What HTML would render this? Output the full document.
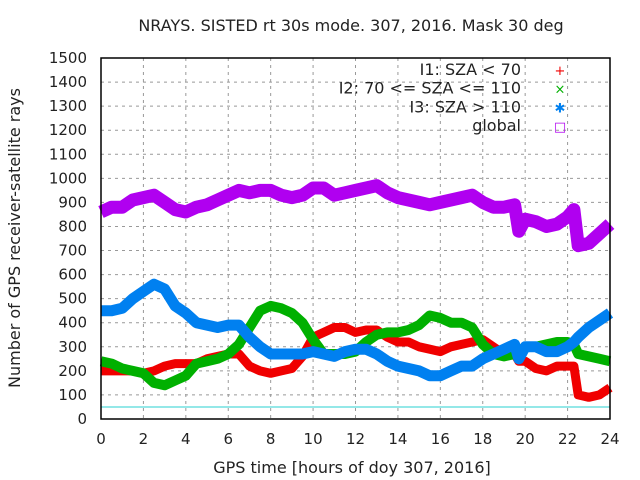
<!DOCTYPE html>
<html><head><meta charset="utf-8"><style>
body{margin:0;background:#fff}
svg{display:block;font-family:"DejaVu Sans","Liberation Sans",sans-serif}
</style></head><body>
<svg id="chart" width="640" height="480" viewBox="0 0 640 480" xmlns="http://www.w3.org/2000/svg">
<text x="351" y="31" font-size="16" text-anchor="middle" fill="#222">NRAYS. SISTED rt 30s mode. 307, 2016. Mask 30 deg</text>
<text transform="translate(20,238) rotate(-90)" font-size="16" text-anchor="middle" fill="#222">Number of GPS receiver-satellite rays</text>
<text x="352" y="473" font-size="16" text-anchor="middle" fill="#222">GPS time [hours of doy 307, 2016]</text>
<g id="grid"></g>
<g id="ticks"></g>
<g id="series"></g>
<rect x="101" y="58" width="509" height="361" fill="none" stroke="#000" stroke-width="1.5"/>
<g id="legend"></g>
</svg>
<script>
const hours=[0,0.5,1,1.5,2,2.5,3,3.5,4,4.5,5,5.5,6,6.5,7,7.5,8,8.5,9,9.5,10,10.5,11,11.5,12,12.5,13,13.5,14,14.5,15,15.5,16,16.5,17,17.5,18,18.5,19,19.5,19.7,20,20.5,21,21.5,22,22.3,22.5,23,23.5,24];
const globalVals=[860,880,880,910,920,930,900,870,860,880,890,910,930,950,940,950,950,930,920,930,960,960,930,940,950,960,970,940,920,910,900,890,900,910,920,930,900,880,880,890,780,830,820,800,810,840,870,720,730,770,810];
const i3Vals=[450,450,460,500,530,560,540,470,440,400,390,380,390,390,340,300,270,270,270,270,280,270,260,280,290,290,270,240,220,210,200,180,180,200,220,220,250,270,290,310,250,300,300,280,280,300,320,340,380,410,440];
const i2Vals=[240,230,210,200,190,150,140,160,180,230,240,250,270,310,380,450,470,460,440,400,330,270,270,270,280,320,350,360,360,370,390,430,420,400,400,380,310,270,260,270,280,300,300,310,320,320,310,270,260,250,240];
const i1Vals=[200,200,200,200,190,200,220,230,230,230,250,260,270,270,220,200,190,200,210,260,340,360,380,380,360,370,370,340,320,320,300,290,280,300,310,320,330,300,270,270,240,240,210,200,220,220,220,100,90,100,130];
const xTicks=[0,2,4,6,8,10,12,14,16,18,20,22,24];
const yTicks=[0,100,200,300,400,500,600,700,800,900,1000,1100,1200,1300,1400,1500];
const cyanLevel=[50];
const NS="http://www.w3.org/2000/svg";
const X=h=>101+h*509/24;
const Y=v=>419-v*361/1500;
function mk(tag,parent,attrs){const e=document.createElementNS(NS,tag);for(const k in attrs)e.setAttribute(k,attrs[k]);parent.appendChild(e);return e;}
const grid=document.getElementById('grid'),ticks=document.getElementById('ticks'),ser=document.getElementById('series'),leg=document.getElementById('legend');
xTicks.forEach(t=>{
 const l=mk('line',grid,{x1:X(t),x2:X(t),y1:58,y2:419,stroke:'#999','stroke-dasharray':'3,4'});
 
 
 const tx=mk('text',ticks,{x:X(t),y:444,'font-size':15,'text-anchor':'middle',fill:'#222'});tx.textContent=t;
 
 
});
yTicks.forEach(t=>{
 const l=mk('line',grid,{x1:101,x2:610,y1:Y(t),y2:Y(t),stroke:'#999','stroke-dasharray':'3,4'});
 
 
 const tx=mk('text',ticks,{x:87,y:Y(t)+5,'font-size':15,'text-anchor':'end',fill:'#222'});tx.textContent=t;
 
 
});
cyanLevel.forEach(v=>{const l=mk('line',ser,{x1:101,x2:610,y1:Y(v),y2:Y(v),stroke:'#2ad0d0','stroke-width':1});
 
 });
function series(vals,color,name,w){
 const g=mk('g',ser,{});
 
 
 let d='';
 vals.forEach((v,i)=>{d+=(i?'L':'M')+X(hours[i]).toFixed(1)+','+Y(v).toFixed(1);});
 mk('path',g,{d:d,fill:'none',stroke:color,'stroke-width':w,'stroke-linejoin':'round','stroke-linecap':'butt'});
}
series(i1Vals,'#f00000','series-i1',9);
series(i2Vals,'#00b000','series-i2',10);
series(i3Vals,'#0080f0','series-i3',11);
series(globalVals,'#b000f0','series-global',13);
const legNames=['I1: SZA < 70','I2: 70 <= SZA <= 110','I3: SZA > 110','global'];
const legColors=['#f00000','#00b000','#0080f0','#b000f0'];
const legGlyph=['+','×','✱','□'];
legNames.forEach((n,i)=>{
 const y=70+i*18.7;
 const t=mk('text',leg,{x:521,y:y+5,'font-size':16,'text-anchor':'end',fill:'#222'});t.textContent=n;
 
 
 const m=mk('text',leg,{x:560,y:y+5,'font-size':13,'text-anchor':'middle',fill:legColors[i]});m.textContent=legGlyph[i];
 
 
});
</script>
</body></html>
